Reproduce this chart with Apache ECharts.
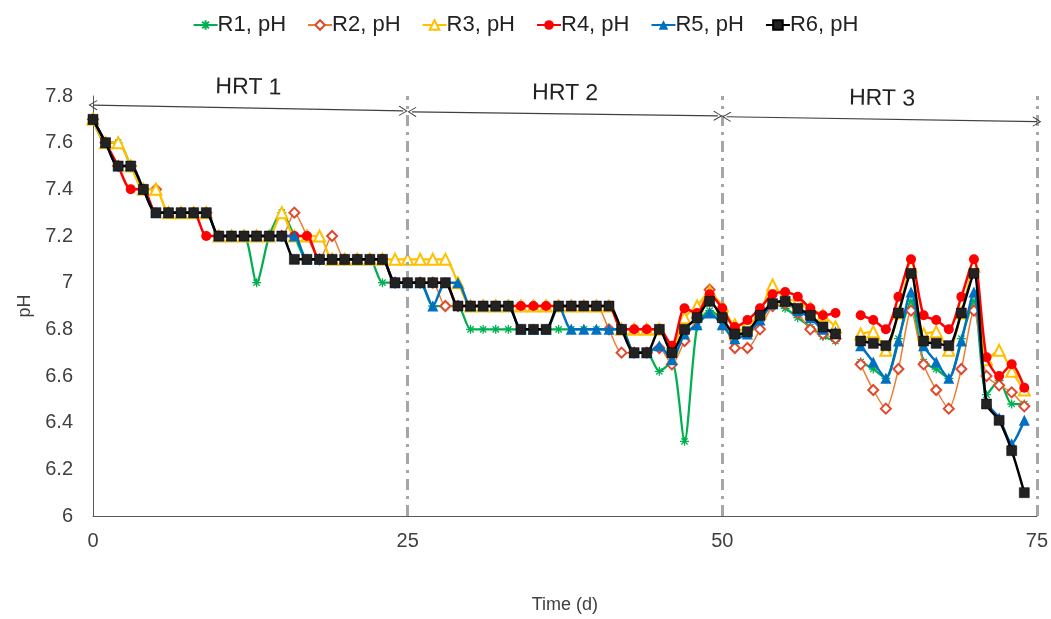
<!DOCTYPE html>
<html>
<head>
<meta charset="utf-8">
<script src="https://cdn.jsdelivr.net/npm/echarts@6/dist/echarts.min.js"></script>
<style>
html,body{margin:0;padding:0;background:#fff;}
#chart{width:1051px;height:619px;}
</style>
</head>
<body>
<div id="chart"></div>
<script>
// Days 0..74 (day 60 not measured -> null)
const days = Array.from({length: 75}, (_, i) => i);

const seriesNames = ['R1, pH', 'R2, pH', 'R3, pH', 'R4, pH', 'R5, pH', 'R6, pH'];

const r1 = [7.7,7.6,7.6,7.5,7.4,7.3,7.3,7.3,7.3,7.3,
  7.2,7.2,7.2,7.0,7.2,7.3,7.2,7.1,7.1,7.1,
  7.1,7.1,7.1,7.0,7.0,7.0,7.0,6.9,6.9,6.9,
  6.8,6.8,6.8,6.8,6.8,6.8,6.8,6.8,6.8,6.8,
  6.8,6.8,6.8,6.7,6.7,6.62,6.66,6.32,6.81,6.88,
  6.84,6.77,6.79,6.85,6.91,6.89,6.85,6.81,6.77,6.75,
  null,6.66,6.63,6.59,6.76,6.92,6.66,6.63,6.59,6.76,
  6.92,6.52,6.58,6.48,6.48];

const r2 = [7.7,7.6,7.5,7.5,7.4,7.4,7.3,7.3,7.3,7.3,
  7.2,7.2,7.2,7.2,7.2,7.2,7.3,7.2,7.1,7.2,
  7.1,7.1,7.1,7.1,7.0,7.0,7.0,7.0,6.9,6.9,
  6.9,6.9,6.9,6.9,6.9,6.9,6.9,6.9,6.9,6.9,
  6.9,6.8,6.7,6.7,6.7,6.72,6.65,6.75,6.85,6.97,
  6.88,6.72,6.72,6.80,6.90,6.91,6.87,6.80,6.78,6.76,
  null,6.65,6.54,6.46,6.63,6.88,6.65,6.54,6.46,6.63,
  6.88,6.60,6.56,6.53,6.47];

const r3 = [7.7,7.6,7.6,7.5,7.4,7.4,7.3,7.3,7.3,7.3,
  7.2,7.2,7.2,7.2,7.2,7.3,7.2,7.2,7.2,7.1,
  7.1,7.1,7.1,7.1,7.1,7.1,7.1,7.1,7.1,7.0,
  6.9,6.9,6.9,6.9,6.9,6.9,6.9,6.9,6.9,6.9,
  6.9,6.9,6.8,6.8,6.8,6.8,6.72,6.85,6.90,6.96,
  6.90,6.82,6.82,6.87,6.99,6.93,6.92,6.89,6.86,6.81,
  null,6.78,6.79,6.71,6.87,7.07,6.78,6.79,6.71,6.87,
  7.07,6.67,6.71,6.62,6.54];

const r4 = [7.7,7.6,7.5,7.4,7.4,7.3,7.3,7.3,7.3,7.2,
  7.2,7.2,7.2,7.2,7.2,7.2,7.2,7.2,7.1,7.1,
  7.1,7.1,7.1,7.1,7.0,7.0,7.0,7.0,7.0,6.9,
  6.9,6.9,6.9,6.9,6.9,6.9,6.9,6.9,6.9,6.9,
  6.9,6.9,6.8,6.8,6.8,6.8,6.73,6.89,6.87,6.95,
  6.89,6.81,6.84,6.89,6.95,6.96,6.94,6.89,6.86,6.87,
  null,6.86,6.84,6.80,6.94,7.10,6.86,6.84,6.80,6.94,
  7.10,6.68,6.60,6.65,6.55];

const r5 = [7.7,7.6,7.5,7.5,7.4,7.3,7.3,7.3,7.3,7.3,
  7.2,7.2,7.2,7.2,7.2,7.2,7.2,7.1,7.1,7.1,
  7.1,7.1,7.1,7.1,7.0,7.0,7.0,6.9,7.0,7.0,
  6.9,6.9,6.9,6.9,6.8,6.8,6.8,6.9,6.8,6.8,
  6.8,6.8,6.8,6.7,6.7,6.73,6.67,6.78,6.82,6.87,
  6.82,6.76,6.78,6.84,6.91,6.92,6.88,6.85,6.80,6.79,
  null,6.73,6.66,6.59,6.75,6.96,6.73,6.66,6.59,6.75,
  6.96,6.49,6.42,6.31,6.41];

const r6 = [7.7,7.6,7.5,7.5,7.4,7.3,7.3,7.3,7.3,7.3,
  7.2,7.2,7.2,7.2,7.2,7.2,7.1,7.1,7.1,7.1,
  7.1,7.1,7.1,7.1,7.0,7.0,7.0,7.0,7.0,6.9,
  6.9,6.9,6.9,6.9,6.8,6.8,6.8,6.9,6.9,6.9,
  6.9,6.9,6.8,6.7,6.7,6.8,6.7,6.8,6.85,6.92,
  6.85,6.78,6.79,6.86,6.91,6.92,6.89,6.86,6.81,6.78,
  null,6.75,6.74,6.73,6.87,7.04,6.75,6.74,6.73,6.87,
  7.04,6.48,6.41,6.28,6.10];

const xTicks = [0, 25, 50, 75];
const yTicks = [6, 6.2, 6.4, 6.6, 6.8, 7, 7.2, 7.4, 7.6, 7.8];

// HRT period annotations (start day, end day, label)
const hrtLabels = ['HRT 1', 'HRT 2', 'HRT 3'];
const hrtStart = [0, 25.35, 50.35];
const hrtEnd = [24.65, 49.65, 75];
const hrtYStart = [7.761, 7.732, 7.711];
const hrtYEnd = [7.736, 7.715, 7.690];
const periodBounds = [25, 50, 75];

const FONT = 'Liberation Sans, Arial, sans-serif';
const TXT = '#404040';

const pair = arr => days.map((d, i) => [d, arr[i]]);

const starPath = 'path://M5,0L5,10M0,5L10,5M1.5,1.5L8.5,8.5M1.5,8.5L8.5,1.5';
const chevron = 'path://M0,0L-6,9L-5.2,9.8L0,2L5.2,9.8L6,9Z';

const styles = [
  {line: '#00B050', sym: starPath, size: 9, item: {color: 'rgba(0,0,0,0)', borderColor: '#00B050', borderWidth: 1.3}, width: 2.25},
  {line: '#ED7D31', sym: 'emptyDiamond', size: 10, item: {color: '#E04A2C', borderColor: '#E04A2C', borderWidth: 1.3}, width: 1.5},
  {line: '#FFC000', sym: 'emptyTriangle', size: 11, item: {color: '#FFC000', borderColor: '#FFC000', borderWidth: 1.5}, width: 2.25},
  {line: '#FF0000', sym: 'circle', size: 10, item: {color: '#FF0000'}, width: 2.5},
  {line: '#0070C0', sym: 'triangle', size: 11, item: {color: '#0070C0'}, width: 2.5},
  {line: '#000000', sym: 'rect', size: 10, item: {color: '#222222', borderColor: '#000', borderWidth: 0.5}, width: 2.5}
];

const values = [r1, r2, r3, r4, r5, r6];

const series = values.map((arr, k) => ({
  name: seriesNames[k],
  type: 'line',
  data: pair(arr),
  smooth: 0.25,
  connectNulls: false,
  symbol: styles[k].sym,
  symbolSize: styles[k].size,
  showSymbol: true,
  lineStyle: {color: styles[k].line, width: styles[k].width},
  itemStyle: styles[k].item,
  color: styles[k].line,
  emphasis: {disabled: true},
  z: 2 + k,
  animation: false
}));

// Annotation series: dash-dot period bounds and HRT arrows
series.push({
  name: '_annot',
  type: 'line',
  data: [],
  silent: true,
  z: 1,
  markLine: {
    silent: true,
    animation: false,
    symbol: ['none', 'none'],
    label: {show: false},
    lineStyle: {color: '#A6A6A6', width: 3, type: [11, 6, 3, 6]},
    data: periodBounds.map(v => ({xAxis: v}))
  }
});
series.push({
  name: '_arrows',
  type: 'line',
  data: [],
  silent: true,
  z: 1,
  markLine: {
    silent: true,
    animation: false,
    symbol: [chevron, chevron],
    symbolSize: [10, 9],
    lineStyle: {color: '#404040', width: 1.2, type: 'solid'},
    label: {
      show: true,
      position: 'middle',
      distance: 9,
      color: '#222',
      fontSize: 23,
      fontFamily: FONT,
      formatter: p => p.name
    },
    data: hrtLabels.map((lab, i) => [
      {name: lab, coord: [hrtStart[i], hrtYStart[i]]},
      {coord: [hrtEnd[i], hrtYEnd[i]]}
    ])
  }
});

const chart = echarts.init(document.getElementById('chart'), null, {renderer: 'canvas'});
chart.setOption({
  animation: false,
  backgroundColor: '#fff',
  legend: {
    data: seriesNames,
    top: 9,
    left: 'center',
    itemGap: 21,
    itemWidth: 24,
    itemHeight: 12,
    textStyle: {fontSize: 22, color: '#222', fontFamily: FONT, padding: [0, 0, 0, -5]}
  },
  grid: {left: 93, right: 14, top: 96, bottom: 94, containLabel: false},
  xAxis: {
    type: 'value',
    min: xTicks[0],
    max: xTicks[xTicks.length - 1],
    interval: 25,
    name: 'Time (d)',
    nameLocation: 'middle',
    nameGap: 80,
    nameTextStyle: {fontSize: 18, color: TXT, fontFamily: FONT},
    axisLine: {show: true, lineStyle: {color: '#595959', width: 1}},
    axisTick: {show: false},
    axisLabel: {fontSize: 20, color: TXT, fontFamily: FONT, margin: 15},
    splitLine: {show: false}
  },
  yAxis: {
    type: 'value',
    min: yTicks[0],
    max: yTicks[yTicks.length - 1],
    interval: 0.2,
    name: 'pH',
    nameLocation: 'middle',
    nameGap: 54,
    nameTextStyle: {fontSize: 18, color: TXT, fontFamily: FONT},
    axisLine: {show: true, lineStyle: {color: '#595959', width: 1}},
    axisTick: {show: false},
    axisLabel: {fontSize: 20, color: TXT, fontFamily: FONT, margin: 20,
      formatter: v => String(Math.round(v * 10) / 10)},
    splitLine: {show: false}
  },
  series: series
});
</script>
</body>
</html>
